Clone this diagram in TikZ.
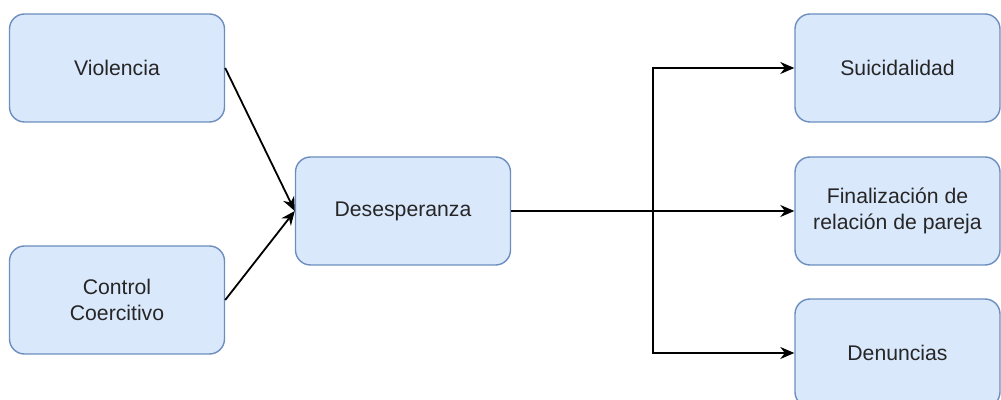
\documentclass[tikz,border=0pt]{standalone}
\usepackage{fontspec}
\setmainfont{Liberation Sans}
\usetikzlibrary{arrows.meta}
\definecolor{boxfill}{HTML}{DAE8FC}
\definecolor{boxline}{HTML}{6C8EBF}
\tikzset{
  box/.style={draw=boxline,fill=boxfill,line width=0.7pt,rounded corners=7.5pt,
    minimum width=107.5pt,minimum height=54pt,align=center,
    font=\fontsize{10.6}{12.7}\selectfont,text=black!85},
  arr/.style={-{Stealth[length=7pt,width=6pt]},line width=0.9pt}
}
\begin{document}
\begin{tikzpicture}[x=0.5pt,y=-0.5pt]
            \useasboundingbox (0,0) rectangle (1001,400);
            % Causes
            \node [box] (viol) at (117,68) {Violencia};
            \node [box] (ctrl) at (117,300) {Control\\Coercitivo};
            \node [box] (desp) at (403,211) {Desesperanza};
            % Outcomes
            \node [box,minimum width=102.5pt] (suic) at (897.5,68) {Suicidalidad};
            \node [box,minimum width=102.5pt] (fin) at (897.5,211) {Finalización de\\relación de pareja};
            \node [box,minimum width=102.5pt] (den) at (897.5,353) {Denuncias};

            \draw [arr] (viol.east)--(desp.west);
            \draw [arr] (ctrl.east)--(desp.west);
            \draw [arr] (desp.east)--(fin.west);
            \coordinate (split) at (653,211);
            \draw [arr] (split) |- (suic.west);
            \draw [arr] (split) |- (den.west);
        \end{tikzpicture}
\end{document}
